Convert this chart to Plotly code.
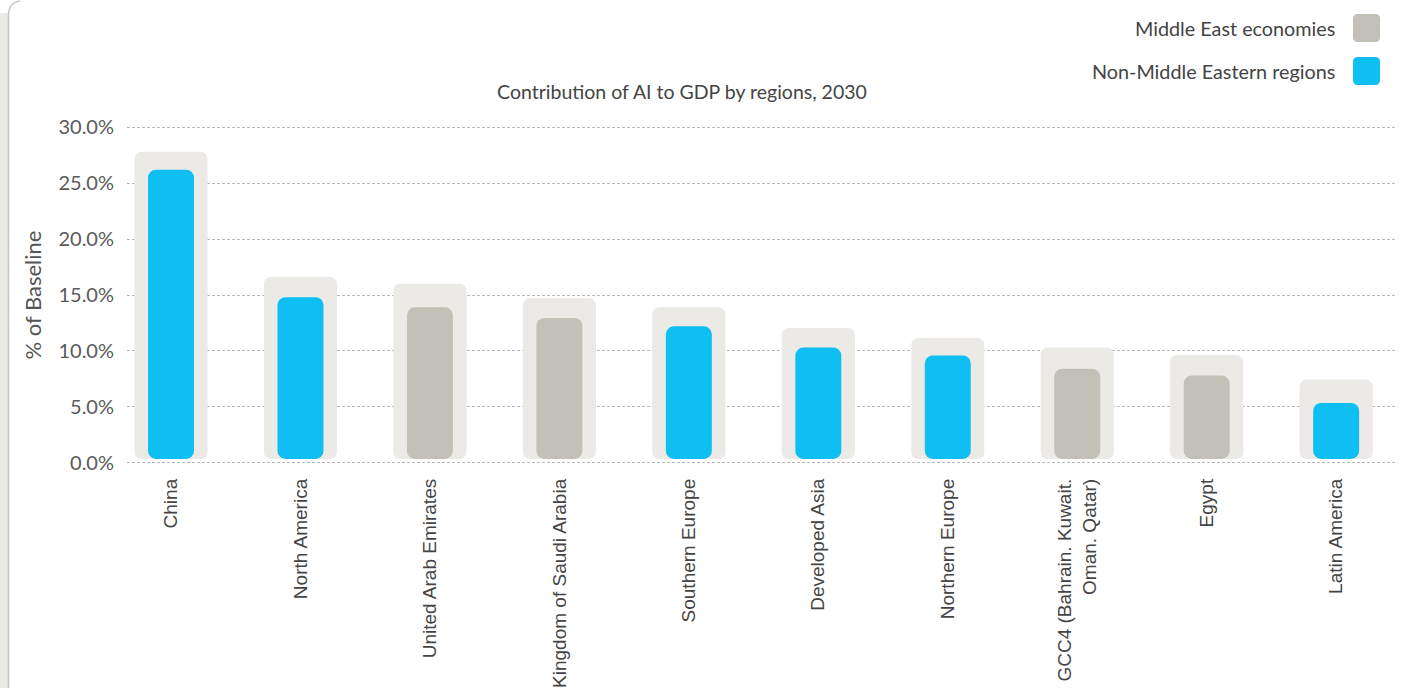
import plotly.graph_objects as go

categories = ["China", "North America", "United Arab Emirates", "Kingdom of Saudi Arabia",
              "Southern Europe", "Developed Asia", "Northern Europe",
              "GCC4 (Bahrain. Kuwait.<br>Oman. Qatar)", "Egypt", "Latin America"]
values = [26.2, 14.8, 13.9, 12.95, 12.2, 10.3, 9.6, 8.4, 7.8, 5.35]
backdrop = [27.8, 16.6, 16.0, 14.7, 13.9, 12.05, 11.15, 10.3, 9.65, 7.45]
groups = ["Non-Middle Eastern regions", "Non-Middle Eastern regions", "Middle East economies",
          "Middle East economies", "Non-Middle Eastern regions", "Non-Middle Eastern regions",
          "Non-Middle Eastern regions", "Middle East economies", "Middle East economies",
          "Non-Middle Eastern regions"]
y_ticks = [0, 5, 10, 15, 20, 25, 30]
y_tick_labels = ["0.0%", "5.0%", "10.0%", "15.0%", "20.0%", "25.0%", "30.0%"]

colors = {"Middle East economies": "#c3c0b7", "Non-Middle Eastern regions": "#10bff1"}
BG = "#ebeae6"
BASE = 0.35
FONT = "Lato"
LABEL_FONT = "Liberation Sans"

x = list(range(len(categories)))

fig = go.Figure()
fig.add_trace(go.Bar(x=x, y=[b - BASE for b in backdrop], base=BASE, width=0.565,
                     marker=dict(color=BG, cornerradius=7, line=dict(width=0)),
                     hoverinfo="skip", showlegend=False))
fig.add_trace(go.Bar(x=x, y=[v - BASE for v in values], base=BASE, width=0.355,
                     marker=dict(color=[colors[g] for g in groups], cornerradius=8,
                                 line=dict(width=0)),
                     customdata=values, hovertemplate="%{customdata:.1f}%<extra></extra>",
                     showlegend=False))

fig.update_layout(
    width=1401, height=688,
    margin=dict(l=127, r=4, t=126, b=224, autoexpand=False),
    barmode="overlay",
    paper_bgcolor="white", plot_bgcolor="white",
    font=dict(family=FONT, color="#555555"),
    title=dict(text="Contribution of AI to GDP by regions, 2030",
               x=(682 - 127) / 1270, xref="paper", xanchor="center",
               y=(688 - 92) / 688, yanchor="middle",
               font=dict(size=19.5, color="#444444", family=FONT)),
    xaxis=dict(range=[-0.34, 9.47], tickmode="array", tickvals=x, ticktext=categories,
               tickangle=-90, tickfont=dict(size=19, color="#444444", family=LABEL_FONT),
               ticklabelstandoff=10, automargin=False,
               showgrid=False, zeroline=False, showline=False, ticks=""),
    yaxis=dict(range=[-0.1, 30.1], tickmode="array", tickvals=y_ticks,
               ticktext=y_tick_labels, tickfont=dict(size=20, color="#5a5a5a"),
               ticklabelstandoff=12, automargin=False,
               showgrid=True, gridcolor="#b9b9b9", gridwidth=1, griddash="3px,2px",
               zeroline=False, showline=False, ticks="", ticklen=0,
               title=dict(text="% of Baseline", font=dict(size=22, color="#555555"),
                          standoff=10)),
)

# legend drawn at the top right (swatches to the right of the labels)
def px_x(p):
    return (p - 127) / 1270

def px_y(p):
    return (462 - p) / 338 + 0.1 / 30.2

def rounded_rect(x0, y0, x1, y1, r):
    return (f"M {px_x(x0 + r)},{px_y(y0)} L {px_x(x1 - r)},{px_y(y0)} "
            f"Q {px_x(x1)},{px_y(y0)} {px_x(x1)},{px_y(y0 + r)} "
            f"L {px_x(x1)},{px_y(y1 - r)} Q {px_x(x1)},{px_y(y1)} {px_x(x1 - r)},{px_y(y1)} "
            f"L {px_x(x0 + r)},{px_y(y1)} Q {px_x(x0)},{px_y(y1)} {px_x(x0)},{px_y(y1 - r)} "
            f"L {px_x(x0)},{px_y(y0 + r)} Q {px_x(x0)},{px_y(y0)} {px_x(x0 + r)},{px_y(y0)} Z")

legend_items = ["Middle East economies", "Non-Middle Eastern regions"]
legend_rows = [27, 70]
for name, yc in zip(legend_items, legend_rows):
    fig.add_annotation(text=name, xref="paper", yref="paper", x=px_x(1337), y=px_y(yc),
                       xanchor="right", yanchor="middle", showarrow=False,
                       font=dict(size=19.8, color="#444444", family=FONT))
    fig.add_shape(type="path", xref="paper", yref="paper",
                  path=rounded_rect(1353, yc - 14, 1380, yc + 14, 5),
                  fillcolor=colors[name], line=dict(width=0), layer="above")

# left panel border
fig.add_shape(type="rect", xref="paper", yref="paper", x0=px_x(-2), x1=px_x(8),
              y0=px_y(700), y1=px_y(12), fillcolor=BG, line=dict(width=0), layer="below")
fig.add_shape(type="path", xref="paper", yref="paper",
              path=f"M {px_x(8.5)},{px_y(700)} L {px_x(8.5)},{px_y(14)} "
                   f"Q {px_x(8.5)},{px_y(2)} {px_x(20)},{px_y(0)}",
              line=dict(color="#c9c7c1", width=1.5), layer="below")

fig.write_html("out.html", config={"displayModeBar": False},
               post_script="document.body.style.margin='0';")
